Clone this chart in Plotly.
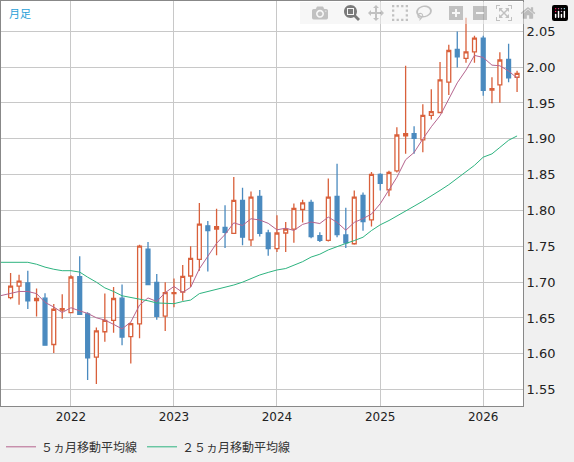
import pandas as pd
import plotly.graph_objects as go

months = pd.date_range("2021-06-01", "2026-05-01", freq="MS")

opens = [1.6785, 1.6945, 1.699, 1.6744, 1.6776, 1.613, 1.661, 1.6576, 1.7077, 1.6558,
         1.5953, 1.6308, 1.6467, 1.6776, 1.624, 1.6417, 1.7459, 1.6995, 1.6526, 1.684,
         1.6863, 1.7086, 1.7318, 1.7786, 1.7741, 1.7764, 1.7682, 1.8142, 1.7591, 1.8196,
         1.7686, 1.7468, 1.7686, 1.7741, 1.8014, 1.8114, 1.765, 1.7582, 1.8196, 1.7659,
         1.7536, 1.821, 1.7868, 1.8505, 1.8289, 1.8553, 1.904, 1.9072, 1.8985, 1.9326,
         1.9367, 1.979, 2.0246, 2.0123, 2.0214, 2.0405, 1.968, 1.9754, 2.0109, 1.9859]
highs = [1.7127, 1.7104, 1.7159, 1.6913, 1.6845, 1.6694, 1.6831, 1.7095, 1.7363, 1.658,
         1.6367, 1.684, 1.6931, 1.6968, 1.6435, 1.7523, 1.7559, 1.7113, 1.6999, 1.705,
         1.724, 1.75, 1.8105, 1.7855, 1.8023, 1.8073, 1.8469, 1.8319, 1.8264, 1.8287,
         1.7732, 1.7932, 1.7841, 1.8096, 1.815, 1.815, 1.7695, 1.8446, 1.8651, 1.8037,
         1.8278, 1.825, 1.8537, 1.852, 1.8553, 1.9163, 2.0018, 1.9176, 1.9481, 1.969,
         2.0073, 2.0314, 2.0496, 2.0691, 2.0437, 2.0437, 1.9859, 2.0209, 2.0327, 1.995]
lows = [1.676, 1.6685, 1.6626, 1.6522, 1.6112, 1.6012, 1.649, 1.6567, 1.655, 1.5634,
        1.558, 1.6167, 1.6294, 1.612, 1.5866, 1.6217, 1.6958, 1.6476, 1.6317, 1.665,
        1.674, 1.6931, 1.7159, 1.715, 1.7377, 1.7477, 1.7682, 1.7514, 1.7504, 1.7636,
        1.7368, 1.7422, 1.7422, 1.755, 1.7832, 1.7614, 1.7559, 1.7568, 1.7627, 1.7477,
        1.7523, 1.7718, 1.7777, 1.828, 1.82, 1.853, 1.879, 1.879, 1.8812, 1.927,
        1.9358, 1.961, 1.9995, 2.0063, 2.0063, 1.96, 1.9495, 1.9504, 1.979, 1.9654]
closes = [1.6945, 1.7013, 1.674, 1.6772, 1.612, 1.6622, 1.663, 1.7072, 1.655, 1.5944,
          1.6321, 1.6467, 1.6772, 1.6235, 1.6421, 1.7504, 1.6967, 1.6522, 1.6854, 1.6854,
          1.7081, 1.7331, 1.7809, 1.7718, 1.7773, 1.7695, 1.8142, 1.7627, 1.8187, 1.7682,
          1.7468, 1.7686, 1.7741, 1.8028, 1.8105, 1.7636, 1.7582, 1.8187, 1.7664, 1.755,
          1.8187, 1.7846, 1.8505, 1.838, 1.853, 1.9053, 1.9072, 1.9008, 1.9326, 1.938,
          1.9822, 2.0232, 2.0145, 2.0214, 2.0405, 1.9677, 1.9699, 2.0100, 1.985, 1.9913]

ma5 = [1.684, 1.687, 1.687, 1.684, 1.6718, 1.6653, 1.6577, 1.6643, 1.6599, 1.6564,
       1.6503, 1.6471, 1.6411, 1.6348, 1.6443, 1.668, 1.678, 1.673, 1.6854, 1.694,
       1.6856, 1.6928, 1.7186, 1.7359, 1.7542, 1.7665, 1.7827, 1.7791, 1.7885, 1.7867,
       1.7821, 1.773, 1.7753, 1.7721, 1.7806, 1.7839, 1.7818, 1.7908, 1.7835, 1.7724,
       1.7834, 1.7887, 1.795, 1.8094, 1.829, 1.8463, 1.8708, 1.8809, 1.8998, 1.9168,
       1.9322, 1.9554, 1.9781, 1.9959, 2.0164, 2.0135, 2.0028, 2.0019, 1.9946, 1.9848]
ma25 = [1.7277, 1.7277, 1.7277, 1.725, 1.721, 1.718, 1.716, 1.716, 1.714, 1.707,
        1.700, 1.692, 1.687, 1.681, 1.679, 1.676, 1.674, 1.671, 1.670, 1.670,
        1.673, 1.675, 1.684, 1.6867, 1.690, 1.693, 1.696, 1.700, 1.705, 1.710,
        1.7136, 1.717, 1.719, 1.724, 1.7286, 1.735, 1.739, 1.745, 1.750, 1.754,
        1.758, 1.7627, 1.772, 1.780, 1.786, 1.792, 1.799, 1.806, 1.813, 1.820,
        1.828, 1.836, 1.845, 1.853, 1.863, 1.8744, 1.879, 1.888, 1.898, 1.904]

# both lines already run from the left edge in the original
ma_x = [pd.Timestamp("2021-04-25")] + list(months)
ma25_y = [1.7277] + ma25
ma5_y = [1.681] + ma5

up_col = "#d9603b"
down_col = "#4a8abf"

fig = go.Figure()
fig.add_trace(go.Candlestick(
    x=months, open=opens, high=highs, low=lows, close=closes,
    increasing=dict(line=dict(color=up_col, width=1.3), fillcolor="white"),
    decreasing=dict(line=dict(color=down_col, width=1.3), fillcolor=down_col),
    whiskerwidth=0, showlegend=False, hoverinfo="skip"))
fig.add_trace(go.Scatter(x=ma_x, y=ma5_y, mode="lines", name="５ヵ月移動平均線",
                         line=dict(color="#b5648e", width=1)))
fig.add_trace(go.Scatter(x=ma_x, y=ma25_y, mode="lines", name="２５ヵ月移動平均線",
                         line=dict(color="#2db37f", width=1)))

fig.add_annotation(text="月足", xref="paper", yref="paper", x=0.012, y=0.995,
                   xanchor="left", yanchor="top", showarrow=False,
                   font=dict(color="#2a9fd8", size=11))

fig.update_layout(
    width=574, height=462,
    margin=dict(l=1, r=51, t=1, b=48),
    paper_bgcolor="#f0f0f0", plot_bgcolor="white",
    font=dict(family="Noto Sans CJK JP, DejaVu Sans", size=13, color="#222"),
    legend=dict(orientation="h", x=0, y=-0.065, xanchor="left", yanchor="top",
                font=dict(size=12, color="#333"), bgcolor="rgba(0,0,0,0)"),
)
fig.update_xaxes(
    type="date", range=["2021-04-28", "2026-05-22"],
    rangeslider_visible=False,
    tickvals=pd.date_range("2022-01-01", "2026-01-01", freq="YS"),
    tickformat="%Y", ticks="", showgrid=True, gridcolor="#c8c8c8",
    showline=True, linecolor="#888", mirror=True, tickfont=dict(family="DejaVu Sans", size=12))
fig.update_yaxes(
    side="right", range=[1.5272, 2.0923], dtick=0.05, tickformat=".2f",
    showgrid=True, gridcolor="#c8c8c8", ticks="",
    showline=True, linecolor="#888", mirror=True,
    tickfont=dict(family="DejaVu Sans", size=13))

fig.write_html("out.html", post_script="document.body.style.margin='0';")
